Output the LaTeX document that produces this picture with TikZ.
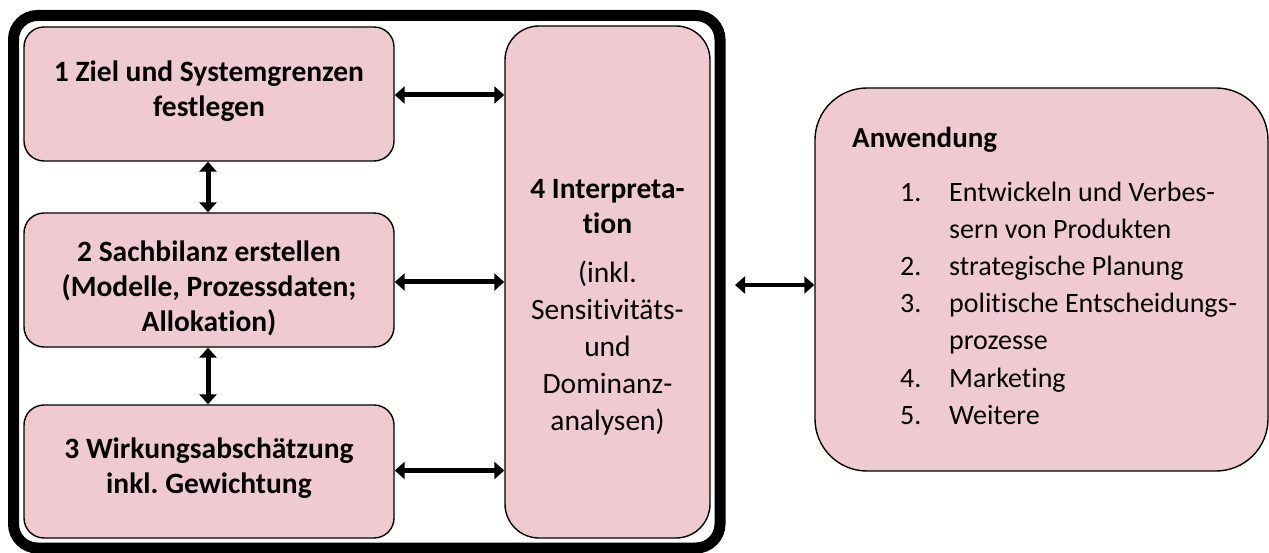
\documentclass[tikz,border=0pt]{standalone}
\usepackage{fontspec}
\setmainfont{Carlito}[Ligatures=NoCommon]
\usetikzlibrary{arrows.meta,calc}
\definecolor{boxpink}{RGB}{239,203,209}
\frenchspacing
\tikzset{
  stagebox/.style={draw=black, line width=1.4pt, fill=boxpink, rounded corners=#1, inner sep=0pt},
  stagebox/.default=20pt,
  boldtext/.style={align=center, font=\fontsize{29.5}{35}\selectfont\bfseries, inner sep=0pt},
  plaintext/.style={align=center, font=\fontsize{29.5}{37}\selectfont, inner sep=0pt},
  link/.style={line width=5pt, {Triangle[width=17pt,length=10pt]}-{Triangle[width=17pt,length=10pt]}},
}
\begin{document}
\begin{tikzpicture}[x=1pt,y=-1pt]
\useasboundingbox (0,0) rectangle (1269,553);
% outer frame around the four phases
\draw[line width=11pt, rounded corners=24pt] (13.5,15.5) rectangle (720,548);
\coordinate (frameeast) at (720,285);

% phase boxes
\node[stagebox, minimum width=370pt, minimum height=134pt] (b1) at (209,94) {};
\node[stagebox, minimum width=370pt, minimum height=134pt] (b2) at (209,280) {};
\node[stagebox, minimum width=370pt, minimum height=133pt] (b3) at (209,471.5) {};
\node[stagebox=34pt, minimum width=205pt, minimum height=512pt] (b4) at (607.5,282) {};
\node[stagebox=52pt, minimum width=453pt, minimum height=383pt] (aw) at (1041.5,279.5) {};

% box texts
\node[boldtext] (t1) at (209,91) {1 Ziel und Systemgrenzen\\festlegen};
\node[boldtext] (t2) at (209,288) {2 Sachbilanz erstellen\\(Modelle, Prozessdaten;\\Allokation)};
\node[boldtext] (t3) at (209,468.5) {3 Wirkungsabschätzung\\inkl. Gewichtung};
\node[boldtext] (t4a) at (607.5,207) {4 Interpreta-\\tion};
\node[plaintext] (t4b) at (607.5,348) {(inkl.\\Sensitivitäts-\\und\\Dominanz-\\analysen)};

\node[anchor=west, inner sep=0pt, font=\fontsize{29}{34}\selectfont\bfseries] (awt) at (852,140) {Anwendung};
\node[anchor=north west, inner sep=0pt, align=left, font=\fontsize{28}{37.2}\selectfont] (awl) at (900,181.5)
{\makebox[49pt][l]{1.}Entwickeln und Verbes-\\
 \hspace*{49pt}sern von Produkten\\
 \makebox[49pt][l]{2.}strategische Planung\\
 \makebox[49pt][l]{3.}politische Entscheidungs-\\
 \hspace*{49pt}prozesse\\
 \makebox[49pt][l]{4.}Marketing\\
 \makebox[49pt][l]{5.}Weitere};

% connectors
\draw[link] (b1.south -| 208,0) -- (b2.north -| 208,0);
\draw[link] (b2.south -| 208,0) -- (b3.north -| 208,0);
\draw[link] ($(b1.east)+(0,1)$) -- ($(b1.east -| b4.west)+(0,1)$);
\draw[link] ($(b2.east)+(0,2)$) -- ($(b2.east -| b4.west)+(0,2)$);
\draw[link] ($(b3.east)+(0,-1)$) -- ($(b3.east -| b4.west)+(0,-1)$);
\coordinate (ra) at ($(frameeast)+(15,0)$);
\draw[link, line width=4.5pt] (ra) -- (ra -| aw.west);
\end{tikzpicture}
\end{document}
